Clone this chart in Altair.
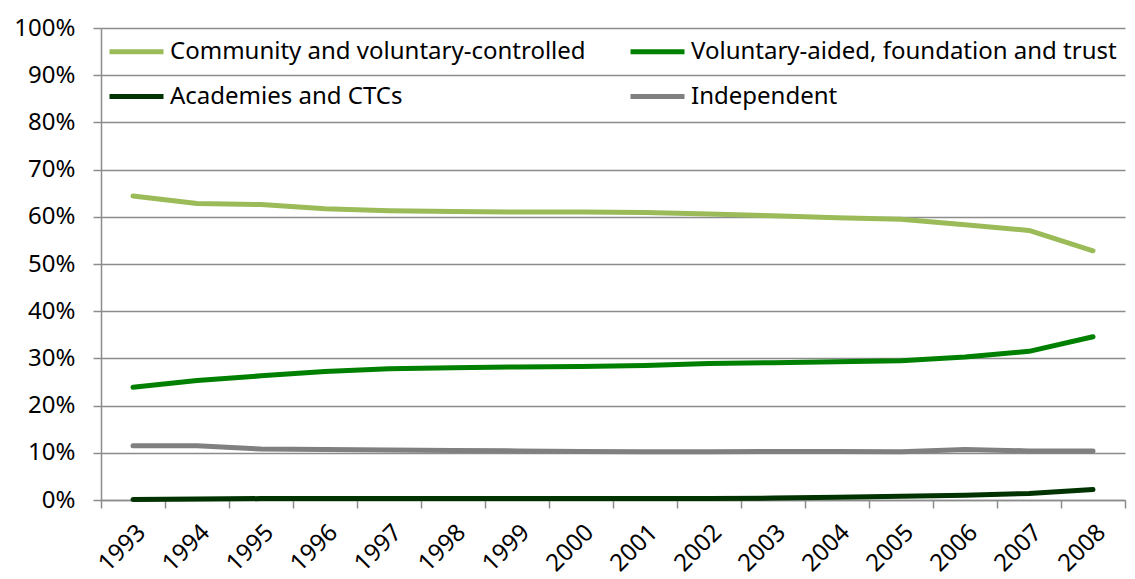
import altair as alt
import pandas as pd

years = [str(y) for y in range(1993, 2009)]
community = [64.4, 62.8, 62.6, 61.7, 61.3, 61.1, 61.0, 61.0, 60.9, 60.6, 60.2, 59.8, 59.5, 58.3, 57.1, 52.8]
voluntary = [23.9, 25.3, 26.3, 27.2, 27.8, 28.0, 28.2, 28.3, 28.5, 28.9, 29.1, 29.3, 29.5, 30.3, 31.5, 34.6]
academies = [0.1, 0.2, 0.3, 0.3, 0.3, 0.3, 0.3, 0.3, 0.3, 0.3, 0.4, 0.6, 0.8, 1.0, 1.4, 2.2]
independent = [11.5, 11.5, 10.8, 10.7, 10.6, 10.5, 10.4, 10.3, 10.2, 10.2, 10.3, 10.3, 10.2, 10.7, 10.4, 10.4]

series_names = ["Community and voluntary-controlled", "Voluntary-aided, foundation and trust",
                "Academies and CTCs", "Independent"]
series_colors = ["#9BBB59", "#008000", "#003300", "#808080"]

# legend fills column by column: order entries so rows read as in the reference
legend_order = [series_names[0], series_names[2], series_names[1], series_names[3]]
legend_colors = [series_colors[0], series_colors[2], series_colors[1], series_colors[3]]

rows = []
for name, vals in zip(series_names, [community, voluntary, academies, independent]):
    for y, v in zip(years, vals):
        rows.append({"year": y, "series": name, "value": v / 100})
df = pd.DataFrame(rows)

FONT = "Noto Sans"
FS = 24

chart = alt.Chart(df).mark_line(strokeWidth=5, strokeCap="round", strokeJoin="round").encode(
    x=alt.X("year:N", bandPosition=0.5,
            scale=alt.Scale(type="band", paddingInner=0, paddingOuter=0),
            axis=alt.Axis(title=None, labelAngle=-45, labelFontSize=FS, labelFont=FONT,
                          labelColor="black", domainColor="#8c8c8c", domainWidth=1.5,
                          tickColor="#8c8c8c", tickWidth=1.5, tickSize=8, tickBand="extent",
                          labelPadding=12, grid=False)),
    y=alt.Y("value:Q", scale=alt.Scale(domain=[0, 1], nice=False),
            axis=alt.Axis(title=None, format=".0%", values=[i / 10 for i in range(11)],
                          labelFontSize=FS, labelFont=FONT, labelColor="black",
                          labelPadding=18, domainColor="#8c8c8c", domainWidth=1.5,
                          tickColor="#8c8c8c", tickWidth=1.5, tickSize=8,
                          grid=True, gridColor="#8c8c8c", gridWidth=1.5)),
    color=alt.Color("series:N", sort=legend_order,
                    scale=alt.Scale(domain=legend_order, range=legend_colors),
                    legend=alt.Legend(title=None, orient="none", legendX=6, legendY=-6,
                                      columns=2, columnPadding=34, rowPadding=3,
                                      symbolType="stroke", symbolSize=2916, symbolStrokeWidth=5,
                                      labelFontSize=FS, labelFont=FONT, labelColor="black",
                                      labelOffset=4, labelLimit=700)),
).properties(
    width=1024, height=472,
    padding={"left": 93, "top": 20, "right": 2, "bottom": 79},
    autosize=alt.AutoSizeParams(type="none"),
).configure_view(stroke=None)

chart.save("out.html", embed_options={"renderer": "svg", "actions": False})
